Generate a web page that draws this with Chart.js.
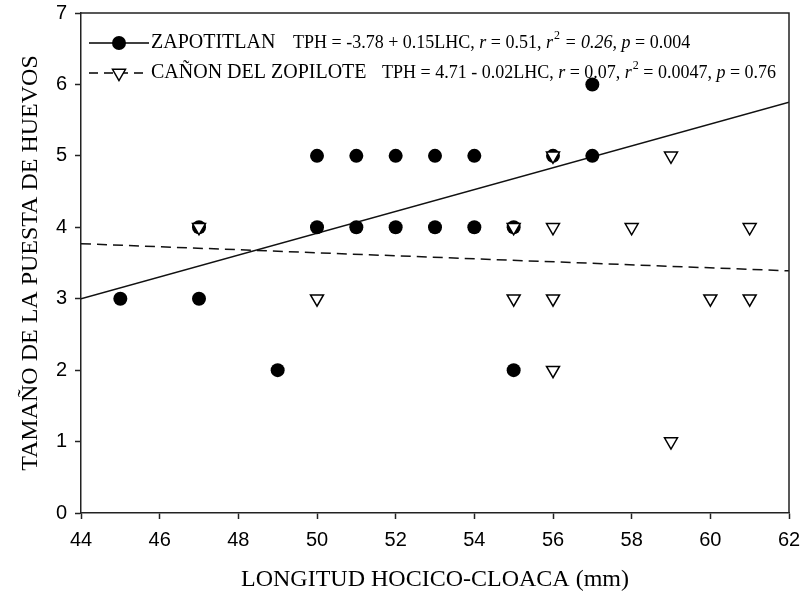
<!DOCTYPE html>
<html>
<head>
<meta charset="utf-8">
<script src="https://cdn.jsdelivr.net/npm/chart.js@4.4.1/dist/chart.umd.min.js"></script>
<style>
  html, body { margin: 0; padding: 0; background: #fff; }
  #wrap { width: 804px; height: 599px; }
</style>
</head>
<body>
<div id="wrap"><canvas id="chart" width="804" height="599"></canvas></div>
<script>
// Zapotitlan (filled circles)
const zapX = [45, 47, 47, 49, 50, 50, 51, 51, 52, 52, 53, 53, 54, 54, 55, 55, 56, 57, 57];
const zapY = [3, 3, 4, 2, 4, 5, 4, 5, 4, 5, 4, 5, 4, 5, 4, 2, 5, 5, 6];
// Cañon del Zopilote (open triangles)
const zopX = [47, 50, 55, 55, 56, 56, 56, 56, 58, 59, 59, 60, 61, 61];
const zopY = [4, 3, 3, 4, 5, 4, 3, 2, 4, 5, 1, 3, 4, 3];
// regression lines, read at the ends of the x range
const zapFitX = [44, 62];
const zapFitY = [3.0, 5.75];
const zopFitX = [44, 62];
const zopFitY = [3.77, 3.39];

const xTicks = [44, 46, 48, 50, 52, 54, 56, 58, 60, 62];
const yTicks = [0, 1, 2, 3, 4, 5, 6, 7];

const seriesNames = ['ZAPOTITLAN', 'CAÑON DEL ZOPILOTE'];
// [text, style] pieces: n = normal, i = italic, s = superscript
const seriesStats = [
    [['TPH = -3.78 + 0.15LHC, ', 'n'], ['r', 'i'], [' = 0.51, ', 'n'], ['r', 'i'], ['2', 's'], [' = 0.26, ', 'i'], ['p', 'i'], [' = 0.004', 'n']],
    [['TPH = 4.71 - 0.02LHC, ', 'n'], ['r', 'i'], [' = 0.07, ', 'n'], ['r', 'i'], ['2', 's'], [' = 0.0047, ', 'n'], ['p', 'i'], [' = 0.76', 'n']]
];

const toPts = (xs, ys) => xs.map((x, i) => ({ x: x, y: ys[i] }));
const serif = "'Liberation Serif', 'Times New Roman', serif";
const sans = "'Liberation Sans', Arial, sans-serif";

function drawMarker(ctx, kind, x, y) {
    ctx.save();
    ctx.lineWidth = 1.5;
    ctx.strokeStyle = '#000';
    if (kind === 'circle') {
        ctx.fillStyle = '#000';
        ctx.beginPath();
        ctx.arc(x, y, 7, 0, Math.PI * 2);
        ctx.fill();
    } else {
        const r = 7.5;
        ctx.fillStyle = '#fff';
        ctx.beginPath();
        ctx.moveTo(x, y + r);
        ctx.lineTo(x - r * Math.sin(Math.PI / 3), y - r / 2);
        ctx.lineTo(x + r * Math.sin(Math.PI / 3), y - r / 2);
        ctx.closePath();
        ctx.fill();
        ctx.stroke();
    }
    ctx.restore();
}

// frame on top/right + legend with the regression stats
const decorPlugin = {
    id: 'decor',
    afterDraw(chart) {
        const ctx = chart.ctx;
        const a = chart.chartArea;
        ctx.save();
        ctx.strokeStyle = '#222';
        ctx.lineWidth = 1.5;
        ctx.beginPath();
        ctx.moveTo(a.left, a.top);
        ctx.lineTo(a.right, a.top);
        ctx.lineTo(a.right, a.bottom);
        ctx.stroke();

        const rows = [43, 73];
        const statX = [293, 382];
        rows.forEach((y, k) => {
            ctx.strokeStyle = '#000';
            ctx.lineWidth = 1.5;
            ctx.setLineDash(k === 0 ? [] : [9, 6]);
            ctx.beginPath();
            ctx.moveTo(89, y);
            ctx.lineTo(149, y);
            ctx.stroke();
            ctx.setLineDash([]);
            drawMarker(ctx, k === 0 ? 'circle' : 'triangle', 119, y);

            ctx.fillStyle = '#000';
            ctx.textBaseline = 'middle';
            ctx.textAlign = 'left';
            ctx.font = '20px ' + serif;
            ctx.fillText(seriesNames[k], 151, y);

            let x = statX[k];
            seriesStats[k].forEach(([txt, st]) => {
                if (st === 's') {
                    ctx.font = '12px ' + serif;
                    ctx.fillText(txt, x + 1, y - 7);
                    x += ctx.measureText(txt).width + 1;
                } else {
                    ctx.font = (st === 'i' ? 'italic ' : '') + '18px ' + serif;
                    ctx.fillText(txt, x, y);
                    x += ctx.measureText(txt).width;
                }
            });
        });
        ctx.restore();
    }
};

new Chart(document.getElementById('chart'), {
    type: 'scatter',
    data: {
        datasets: [
            {
                label: seriesNames[1],
                data: toPts(zopX, zopY),
                pointStyle: 'triangle',
                rotation: 180,
                pointRadius: 7.5,
                pointBackgroundColor: '#fff',
                pointBorderColor: '#000',
                pointBorderWidth: 1.5,
                order: 0
            },
            {
                label: seriesNames[0],
                data: toPts(zapX, zapY),
                pointStyle: 'circle',
                pointRadius: 7,
                pointBackgroundColor: '#000',
                pointBorderColor: '#000',
                pointBorderWidth: 0,
                order: 1
            },
            {
                type: 'line',
                data: toPts(zapFitX, zapFitY),
                borderColor: '#111',
                borderWidth: 1.5,
                pointRadius: 0,
                order: 2
            },
            {
                type: 'line',
                data: toPts(zopFitX, zopFitY),
                borderColor: '#111',
                borderWidth: 1.5,
                borderDash: [10, 6],
                pointRadius: 0,
                order: 3
            }
        ]
    },
    options: {
        responsive: false,
        animation: false,
        devicePixelRatio: 1,
        layout: { padding: { left: 0, right: 15, top: 13, bottom: 0 } },
        plugins: {
            legend: { display: false },
            tooltip: { enabled: false }
        },
        scales: {
            x: {
                type: 'linear',
                min: 44,
                max: 62,
                afterFit: s => { s.height = 86; s.paddingLeft = 0; s.paddingRight = 0; },
                afterBuildTicks: s => { s.ticks = xTicks.map(v => ({ value: v })); },
                grid: { drawOnChartArea: false, drawTicks: true, tickLength: 6, color: '#222', tickWidth: 1.5 },
                border: { display: true, color: '#222', width: 1.5 },
                ticks: { color: '#000', font: { family: sans, size: 20 }, padding: 9, maxRotation: 0 },
                title: {
                    display: true,
                    text: 'LONGITUD HOCICO-CLOACA (mm)',
                    color: '#000',
                    font: { family: serif, size: 24 },
                    padding: 5
                }
            },
            y: {
                type: 'linear',
                min: 0,
                max: 7,
                afterFit: s => { s.width = 81; s.paddingTop = 0; s.paddingBottom = 0; },
                afterBuildTicks: s => { s.ticks = yTicks.map(v => ({ value: v })); },
                grid: { drawOnChartArea: false, drawTicks: true, tickLength: 6, color: '#222', tickWidth: 1.5 },
                border: { display: true, color: '#222', width: 1.5 },
                ticks: { color: '#000', font: { family: sans, size: 20 }, padding: 8 },
                title: {
                    display: true,
                    text: 'TAMAÑO DE LA PUESTA DE HUEVOS',
                    color: '#000',
                    font: { family: serif, size: 24 },
                    padding: 16
                }
            }
        }
    },
    plugins: [decorPlugin]
});
</script>
</body>
</html>
